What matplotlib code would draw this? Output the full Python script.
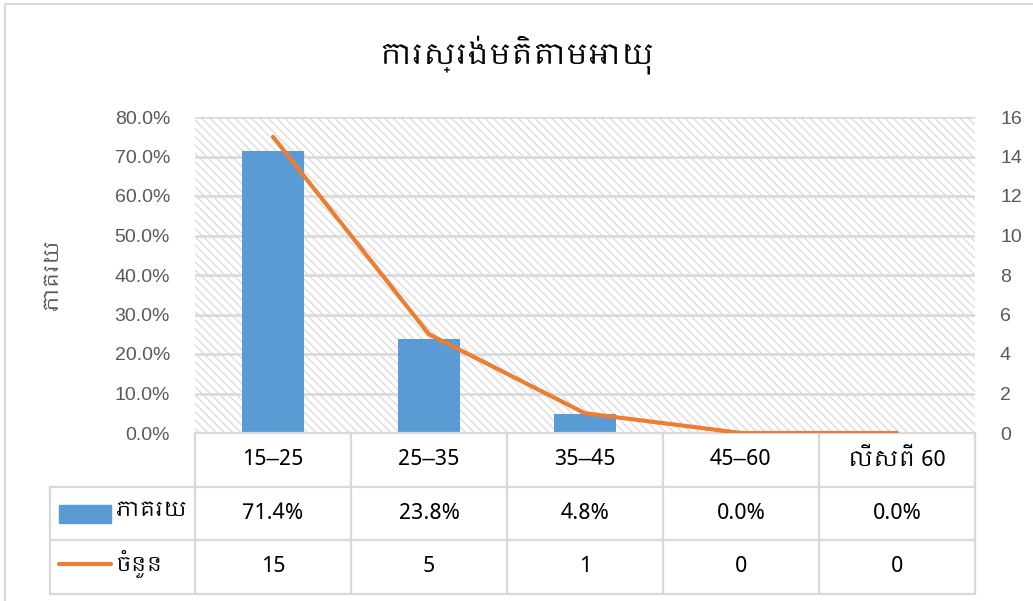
import matplotlib
matplotlib.use("Agg")
import matplotlib.pyplot as plt
from matplotlib import font_manager
from matplotlib.patches import Rectangle
from matplotlib.lines import Line2D
from matplotlib.transforms import blended_transform_factory

# data
categories = ["15-25", "25-35", "35-45", "45-60", "លើសពី 60"]
percent = [71.4, 23.8, 4.8, 0.0, 0.0]
counts = [15, 5, 1, 0, 0]
title = "ការស្រង់មតិតាមអាយុ"
bar_name = "ភាគរយ"
line_name = "ចំនួន"

# pick a font that can show Khmer, if one is installed
khmer = sorted({f.name for f in font_manager.fontManager.ttflist if "Khmer" in f.name})
plt.rcParams["font.family"] = khmer[:1] + ["Liberation Sans", "DejaVu Sans"]
tickfont = ["Liberation Sans", "DejaVu Sans"]

blue = "#5B9BD5"
orange = "#ED7D31"
grid = "#d9d9d9"
tickc = "#595959"

fig = plt.figure(figsize=(10.33, 6.01), dpi=100)
ax = fig.add_axes([195/1033, 1-433/601, 780/1033, 316/601])
ax2 = ax.twinx()

# hatched plot background
ax.patch.set_visible(False)
bg = Rectangle((0, 0), 1, 1, transform=ax.transAxes, facecolor="white",
               edgecolor="#dcdcdc", hatch="\\\\\\\\", lw=0, zorder=0)
ax.add_patch(bg)

x = list(range(len(categories)))
ax.bar(x, percent, width=0.4, color=blue, zorder=3)
ax.set_xlim(-0.5, len(categories) - 0.5)
ax.set_ylim(0, 80)
ax.set_yticks(range(0, 81, 10))
ax.set_yticklabels(["%.1f%%" % v for v in range(0, 81, 10)], family=tickfont)
ax.yaxis.grid(True, color=grid, lw=1.8, zorder=1)
ax.set_axisbelow(True)
ax.set_xticks([])

ax2.plot(x, counts, color=orange, lw=3, solid_capstyle="round", zorder=4)
ax2.set_ylim(0, 16)
ax2.set_yticks(range(0, 17, 2))
ax2.set_yticklabels([str(v) for v in range(0, 17, 2)], family=tickfont)

for a in (ax, ax2):
    for s in a.spines.values():
        s.set_visible(False)
    a.tick_params(length=0, labelsize=14, colors=tickc)
ax.tick_params(axis="y", pad=18)
ax2.tick_params(axis="y", pad=18)
ax.set_zorder(1)
ax2.set_zorder(2)

ax.set_ylabel(bar_name, fontsize=15, color=tickc, fontweight="bold", labelpad=38)

fig.text(0.5, 1 - 55/601, title, ha="center", va="center", fontsize=21)

# data table under the plot
tr = blended_transform_factory(ax.transData, ax.transAxes)
row_h = 53.5 / 316
y_rows = [0, -row_h, -2*row_h, -3*row_h]
left = -145 / 780
lk = dict(color=grid, lw=1.6, transform=ax.transAxes, clip_on=False, zorder=5)
ax.add_line(Line2D([0, 1], [y_rows[0]] * 2, **lk))
for yy in y_rows[1:]:
    ax.add_line(Line2D([left, 1], [yy] * 2, **lk))
for i in range(len(categories) + 1):
    xx = i / len(categories)
    ax.add_line(Line2D([xx, xx], [y_rows[0], y_rows[3]], **lk))
ax.add_line(Line2D([left, left], [y_rows[1], y_rows[3]], **lk))

cell = dict(transform=tr, ha="center", va="center", fontsize=16)
for i, c in enumerate(categories):
    ax.text(i, y_rows[0] - row_h/2, c.replace("-", "\u2013"), **cell)
    ax.text(i, y_rows[1] - row_h/2, "%.1f%%" % percent[i], **cell)
    ax.text(i, y_rows[2] - row_h/2, "%d" % counts[i], **cell)

# legend keys in the row-label column
ax.add_patch(Rectangle((-136/780, y_rows[1] - 36/316), 52/780, 18/316,
                       transform=ax.transAxes, color=blue, clip_on=False))
ax.add_line(Line2D([-136/780, -84/780], [y_rows[2] - 24/316] * 2, color=orange,
                   lw=3, solid_capstyle="round", transform=ax.transAxes, clip_on=False))
ax.text(-79/780, y_rows[1] - row_h/2 + 0.008, bar_name, transform=ax.transAxes,
        ha="left", va="center", fontsize=15, fontweight="bold")
ax.text(-79/780, y_rows[2] - row_h/2 + 0.008, line_name, transform=ax.transAxes,
        ha="left", va="center", fontsize=15, fontweight="bold")

# chart frame
fig.add_artist(Line2D([5/1033, 5/1033], [0, 1 - 4/601], color=grid, lw=1.5))
fig.add_artist(Line2D([5/1033, 1], [1 - 4/601] * 2, color=grid, lw=1.5))

fig.savefig("out.png", dpi=100)
